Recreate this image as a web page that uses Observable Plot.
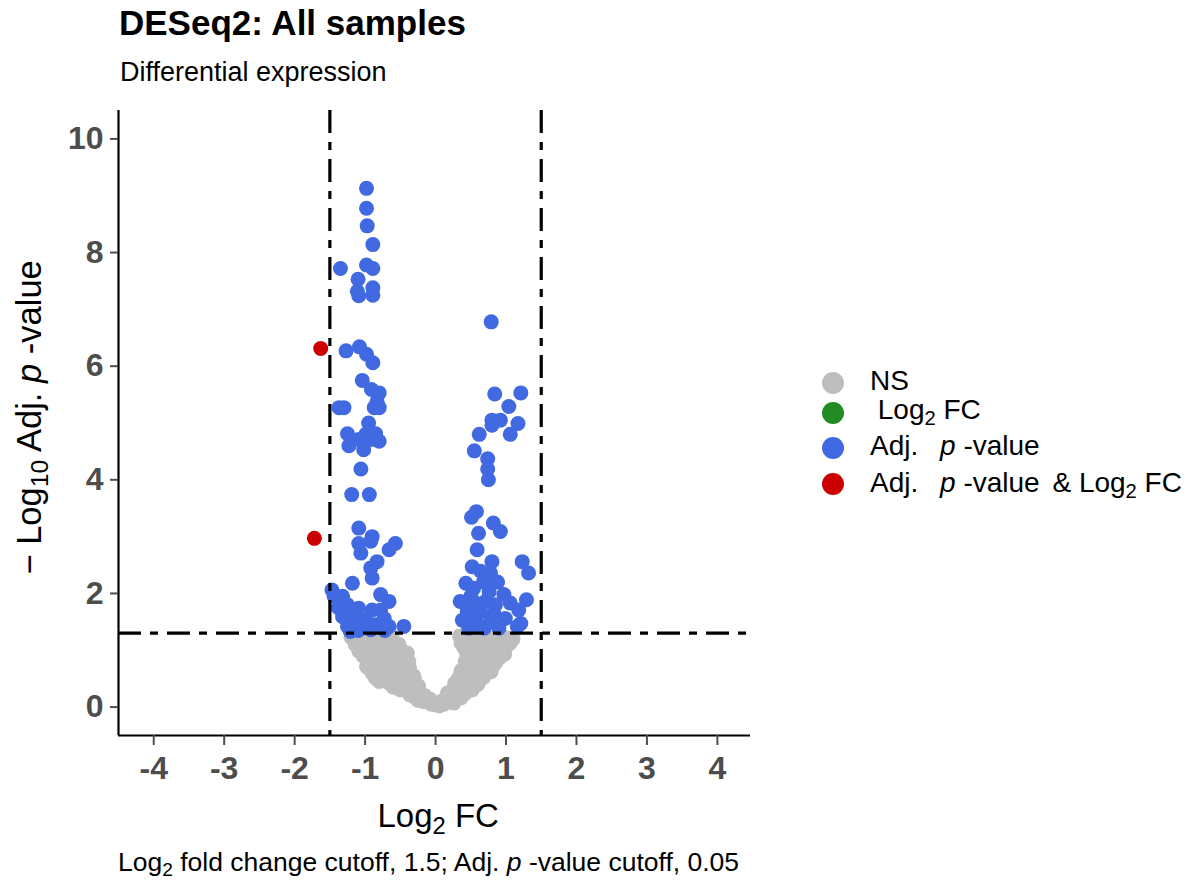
<!DOCTYPE html>
<html><head><meta charset="utf-8">
<script src="https://cdn.jsdelivr.net/npm/d3@7"></script>
<script src="https://cdn.jsdelivr.net/npm/@observablehq/plot@0.6"></script>
<style>
body{margin:0;background:#fff;font-family:"Liberation Sans",Arial,Helvetica,sans-serif;}
#root{position:relative;width:1201px;height:892px;overflow:hidden;background:#fff;}
#plot{position:absolute;left:0;top:0;}
.t{position:absolute;white-space:nowrap;line-height:1;color:#000;}
.sub{font-size:0.72em;vertical-align:-0.28em;}
.dot{position:absolute;width:22px;height:22px;border-radius:50%;}
.gap{display:inline-block;}
</style></head>
<body><div id="root"><div id="plot"></div></div>
<script>
// ---- data ----
const categories = ["NS", "Log2 FC", "Adj. p-value", "Adj. p-value & Log2 FC"];
const categoryColors = ["#bebebe", "#228B22", "#4169E1", "#CD0000"];

// NS (grey) points
const nsX = [-1.2,-1.09,-0.98,-0.84,-0.62,-0.37,-0.18,0,
  -0.62,-0.52,-0.4,-0.38,-0.31,-0.24,-0.15,
  -1.08,-0.95,-0.83,-0.72,
  -0.97,-0.85,-0.73,-0.6,-0.48,
  -0.95,-0.83,-0.7,-0.58,-0.45,
  -0.9,-0.78,-0.65,-0.52,-0.4,
  -0.8,-0.68,-0.55,-0.42,-0.3,
  -0.5,-0.38,-0.27,-0.25,-0.12,-0.06,
  -1.14,-1.02,-0.9,-0.78,-0.66,-0.55,
  -1.03,-0.91,-0.79,-0.67,-0.55,-0.44,
  -0.97,-0.85,-0.73,-0.61,-0.49,-0.37,
  -0.86,-0.74,-0.62,-0.5,-0.38,-0.3,
  -0.6,-0.48,-0.36,-0.24,
  -0.3,-0.2,-0.08,
  1.1,0.98,0.79,0.52,0.26,0.05,
  0.34,0.44,0.37,0.27,0.17,0.08,
  0.45,0.56,0.67,0.78,0.89,1.0,
  0.4,0.52,0.64,0.76,0.88,1.0,
  0.56,0.68,0.8,0.92,
  0.52,0.64,0.76,0.84,
  0.33,0.45,0.57,0.68,
  0.38,0.5,0.6,
  0.18,0.3,0.42,
  0.1,0.22,
  0.36,0.48,0.6,0.72,0.84,0.96,1.06,
  0.46,0.58,0.7,0.82,0.94,
  0.42,0.5,0.62,0.74,0.86,
  0.36,0.46,0.58,0.7,0.78,
  0.3,0.4,0.52,0.62,
  0.24,0.34,0.46,
  0.14,0.26,0.36,
  0.12];
const nsY = [1.23,0.99,0.72,0.5,0.38,0.22,0.1,0.04,
  1.25,1.1,0.95,0.8,0.55,0.37,0.2,
  1.2,1.22,1.2,1.24,
  1.0,1.02,1.0,1.0,1.0,
  0.78,0.8,0.8,0.8,0.8,
  0.6,0.6,0.6,0.6,0.62,
  0.45,0.44,0.44,0.42,0.4,
  0.3,0.28,0.24,0.12,0.1,0.05,
  1.1,1.1,1.1,1.1,1.1,1.1,
  0.9,0.9,0.9,0.9,0.9,0.9,
  0.7,0.7,0.7,0.7,0.7,0.7,
  0.52,0.52,0.52,0.52,0.52,0.5,
  0.35,0.35,0.35,0.3,
  0.18,0.18,0.14,
  1.2,0.93,0.63,0.3,0.07,0.02,
  1.25,0.95,0.65,0.42,0.25,0.1,
  1.22,1.22,1.22,1.22,1.22,1.22,
  1.05,1.05,1.05,1.05,1.05,1.05,
  0.88,0.88,0.88,0.88,
  0.72,0.72,0.72,0.76,
  0.52,0.52,0.52,0.52,
  0.38,0.38,0.4,
  0.22,0.22,0.24,
  0.1,0.12,
  1.13,1.13,1.13,1.13,1.13,1.13,1.13,
  0.96,0.96,0.96,0.96,0.96,
  0.8,0.8,0.8,0.8,0.8,
  0.62,0.62,0.62,0.62,0.62,
  0.45,0.45,0.45,0.45,
  0.3,0.3,0.3,
  0.16,0.16,0.16,
  0.05];

// Adj. p-value (blue) points
const pvX = [-0.98,-0.98,-0.97,-0.89,-1.35,-0.98,-0.89,-1.10,-1.11,-1.09,-0.89,-0.89,
  -1.27,-1.08,-0.98,-0.89,-1.04,-0.91,-0.80,-0.83,-1.37,-1.30,-0.87,-0.80,-0.95,
  -1.25,-0.99,-0.85,-0.80,-1.23,-1.09,-1.02,-0.92,-1.06,-1.19,-0.94,-1.09,-0.90,
  -0.57,-0.66,-1.09,-0.92,-1.06,-0.83,-0.92,-0.90,-1.18,-1.47,-1.44,-1.32,-0.78,
  -0.66,-1.25,-1.09,-1.32,-0.90,-0.78,-1.13,-0.99,-0.73,-1.25,-0.92,-0.66,-0.45,
  -1.21,-1.18,-1.05,-0.85,-1.38,-0.72,-1.10,
  0.79,0.84,1.21,1.04,0.80,0.92,0.80,1.17,1.06,0.62,0.55,0.74,0.74,0.75,0.58,0.51,
  0.82,0.92,0.61,0.59,0.80,1.23,0.52,0.64,0.78,1.32,0.43,0.54,0.76,0.97,0.35,0.54,
  0.71,1.06,1.29,1.18,0.45,0.64,0.83,0.38,0.57,0.78,1.21,0.99,0.47,0.69,0.90,1.16,
  0.60,0.50,0.85,0.68,0.88];
const pvY = [9.13,8.78,8.47,8.14,7.72,7.78,7.72,7.53,7.32,7.24,7.38,7.25,
  6.27,6.34,6.21,6.06,5.75,5.59,5.53,5.38,5.27,5.27,5.27,5.27,5.0,
  4.81,4.80,4.81,4.68,4.60,4.71,4.53,4.71,4.19,3.74,3.74,3.15,3.0,
  2.88,2.77,2.88,2.92,2.71,2.56,2.45,2.27,2.18,2.06,1.95,1.95,1.98,
  1.86,1.80,1.74,1.59,1.71,1.71,1.53,1.53,1.56,1.42,1.36,1.42,1.42,
  1.33,1.65,1.45,1.45,1.75,1.35,1.35,
  6.78,5.51,5.53,5.29,5.05,5.05,4.96,4.99,4.80,4.80,4.51,4.37,4.19,4.00,3.44,3.34,
  3.24,3.09,3.06,2.77,2.56,2.56,2.47,2.39,2.36,2.36,2.18,2.09,2.03,1.98,1.86,1.86,
  1.86,1.83,1.89,1.71,1.68,1.68,1.65,1.53,1.53,1.50,1.47,1.56,1.39,1.39,1.39,1.42,
  1.45,1.95,1.80,2.20,2.20];

// Adj. p-value & Log2 FC (red) points
const bothX = [-1.63, -1.72];
const bothY = [6.31, 2.97];

const xTicks = [-4,-3,-2,-1,0,1,2,3,4];
const yTicks = [0,2,4,6,8,10];
const fcCutoff = 1.5;
const pCutoff = 0.05;

// ---- build table ----
const points = [];
nsX.forEach((x,i)=>points.push({x, y: nsY[i], cat: categories[0]}));
pvX.forEach((x,i)=>points.push({x, y: pvY[i], cat: categories[2]}));
bothX.forEach((x,i)=>points.push({x, y: bothY[i], cat: categories[3]}));

const xDomain = [-4.5, 4.47];
const yDomain = [-0.5, 10.5];
const dash = "23,9,8,9";

const chart = Plot.plot({
  width: 800, height: 892,
  marginLeft: 118, marginRight: 50, marginTop: 110, marginBottom: 157,
  x: {domain: xDomain},
  y: {domain: yDomain},
  color: {domain: categories, range: categoryColors},
  style: {fontFamily: "'Liberation Sans', Arial, sans-serif", background: "white", overflow: "visible"},
  marks: [
    Plot.dot(points, {x: "x", y: "y", fill: "cat", r: 7.5, stroke: null}),
    Plot.ruleX([-fcCutoff, fcCutoff], {stroke: "black", strokeWidth: 3.2, strokeDasharray: dash}),
    Plot.ruleY([-Math.log10(pCutoff)], {stroke: "black", strokeWidth: 3.2, strokeDasharray: dash}),
    Plot.ruleX([xDomain[0]], {stroke: "black", strokeWidth: 2.2}),
    Plot.ruleY([yDomain[0]], {stroke: "black", strokeWidth: 2.2}),
    Plot.axisX({ticks: xTicks, tickFormat: d => String(d), tickSize: 10, tickPadding: 11,
      fontSize: 32, fontWeight: "bold", color: "#4d4d4d", strokeWidth: 2, label: null}),
    Plot.axisY({ticks: yTicks, tickFormat: d => String(d), tickSize: 8, tickPadding: 7,
      fontSize: 32, fontWeight: "bold", color: "#4d4d4d", strokeWidth: 2, label: null})
  ]
});
document.getElementById("plot").appendChild(chart);

// ---- text & legend (HTML) ----
const root = document.getElementById("root");
function addText(html, left, baseline, size, extra) {
  const d = document.createElement("div");
  d.className = "t";
  d.innerHTML = html;
  d.style.fontSize = size + "px";
  d.style.left = left + "px";
  d.style.top = (baseline - 0.8465 * size) + "px";
  if (extra) Object.assign(d.style, extra);
  root.appendChild(d);
  return d;
}
addText("DESeq2: All samples", 119, 35, 35, {fontWeight: "bold"});
addText("Differential expression", 120, 82, 27);

// x-axis title (centred on the plot)
const xt = addText('Log<span class="sub">2</span> FC', 0, 827, 33);
xt.style.left = (438 - xt.offsetWidth / 2) + "px";

// y-axis title, rotated
const yt = document.createElement("div");
yt.className = "t";
yt.style.fontSize = "34.5px";
yt.innerHTML = '\u2212 Log<span class="sub">10</span> Adj. <i>p</i> -value';
root.appendChild(yt);
const w = yt.offsetWidth, h = yt.offsetHeight;
yt.style.left = (32 - w / 2) + "px";
yt.style.top = (417 - h / 2) + "px";
yt.style.transform = "rotate(-90deg)";

// caption
addText('Log<span class="sub">2</span> fold change cutoff, 1.5; Adj. <i>p</i> -value cutoff, 0.05', 118, 871, 26.5);

// legend
const legendLabels = ['NS', '&nbsp;Log<span class="sub">2</span> FC',
  'Adj.<span class="gap" style="width:14px"></span> <i>p</i> -value',
  'Adj.<span class="gap" style="width:14px"></span> <i>p</i> -value<span class="gap" style="width:5px"></span> &amp; Log<span class="sub">2</span> FC'];
const dotY = [383, 413, 448, 484];
const baseY = [391, 420, 456, 493];
categories.forEach((c, i) => {
  const d = document.createElement("div");
  d.className = "dot";
  d.style.background = categoryColors[i];
  d.style.left = (833 - 11) + "px";
  d.style.top = (dotY[i] - 11) + "px";
  root.appendChild(d);
  addText(legendLabels[i], 870, baseY[i], 28);
});
</script>
</body></html>
